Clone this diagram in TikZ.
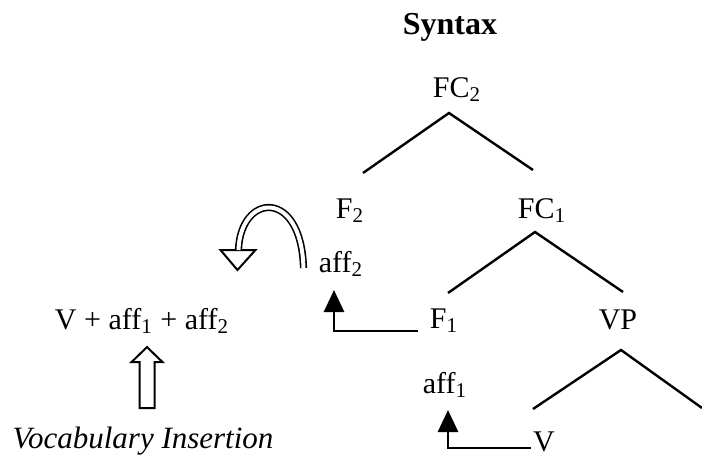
\documentclass[tikz,border=0pt]{standalone}
\usepackage{fontspec}
\setmainfont{Liberation Serif}
\usetikzlibrary{arrows.meta}

\tikzset{
    lab/.style={inner sep=0pt, anchor=base, font=\fontsize{15}{18}\selectfont},
    branch/.style={line width=1.2pt},
    move/.style={line width=1.4pt, -{Triangle[length=11pt,width=10pt]}},
    hollow/.style={draw, fill=white, line width=1pt, line join=miter},
    shaft/.style={draw, double, double distance=2pt, line width=0.8pt}
}

\begin{document}
\begin{tikzpicture}[x=0.5pt, y=-0.5pt]
    \useasboundingbox (0,0) rectangle (702,455);

    \node (syntax) [lab, font=\fontsize{16}{19}\selectfont\bfseries] at (450,34) {Syntax};
    \node (fc2) [lab] at (457,97) {FC\textsubscript{2}};
    \node (f2) [lab] at (350,218) {F\textsubscript{2}};
    \node (fc1) [lab] at (542,218) {FC\textsubscript{1}};
    \node (aff2) [lab] at (341,272) {aff\textsubscript{2}};
    \node (f1) [lab] at (444,328) {F\textsubscript{1}};
    \node (vp) [lab] at (618,329) {VP};
    \node (aff1) [lab] at (445,393) {aff\textsubscript{1}};
    \node (v) [lab] at (544,451) {V};
    \node (vform) [lab] at (142,329) {V + aff\textsubscript{1} + aff\textsubscript{2}};
    \node (vocab) [lab, font=\fontsize{15.5}{18}\selectfont\itshape] at (143,448) {Vocabulary Insertion};
    \coordinate (vpright) at (702,408);

    \draw[branch] ([xshift=6.5pt,yshift=22.5pt]f2.base) -- ([xshift=-4pt,yshift=-8pt]fc2.base)
        -- ([xshift=-4.5pt,yshift=24pt]fc1.base);
    \draw[branch] ([xshift=2pt,yshift=17.5pt]f1.base) -- ([xshift=-3.5pt,yshift=-7pt]fc1.base)
        -- ([xshift=2.5pt,yshift=18.5pt]vp.base);
    \draw[branch] ([xshift=-5.5pt,yshift=21pt]v.base) -- ([xshift=1.5pt,yshift=-10.5pt]vp.base)
        -- (vpright);

    \draw[move] ([xshift=-6pt,yshift=-1.5pt]f1.base west) -| ([xshift=-3.5pt,yshift=-9pt]aff2.base);
    \draw[move] ([xshift=-1pt,yshift=1.5pt]v.base west) -| ([xshift=1.5pt,yshift=-8.5pt]aff1.base);

    \coordinate (arcstart) at ([xshift=-7.5pt,yshift=2pt]aff2.base west);
    \coordinate (arcend) at ([xshift=-40pt,yshift=11pt]aff2.base west);
    \draw[hollow] ([xshift=-9pt]arcend) -- ([xshift=8.5pt]arcend) -- ([xshift=-0.5pt,yshift=-10pt]arcend) -- cycle;
    \draw[shaft] (arcstart) .. controls +(-2,-80) and +(2,-57) .. (arcend);

    \coordinate (insert) at ([xshift=2pt,yshift=9pt]vocab.north);
    \draw[hollow] (insert) ++(-7.5,0) -- ++(0,-46) -- ++(-8,0) -- ++(15.5,-15)
        -- ++(15.5,15) -- ++(-8,0) -- ++(0,46) -- cycle;
\end{tikzpicture}
\end{document}
